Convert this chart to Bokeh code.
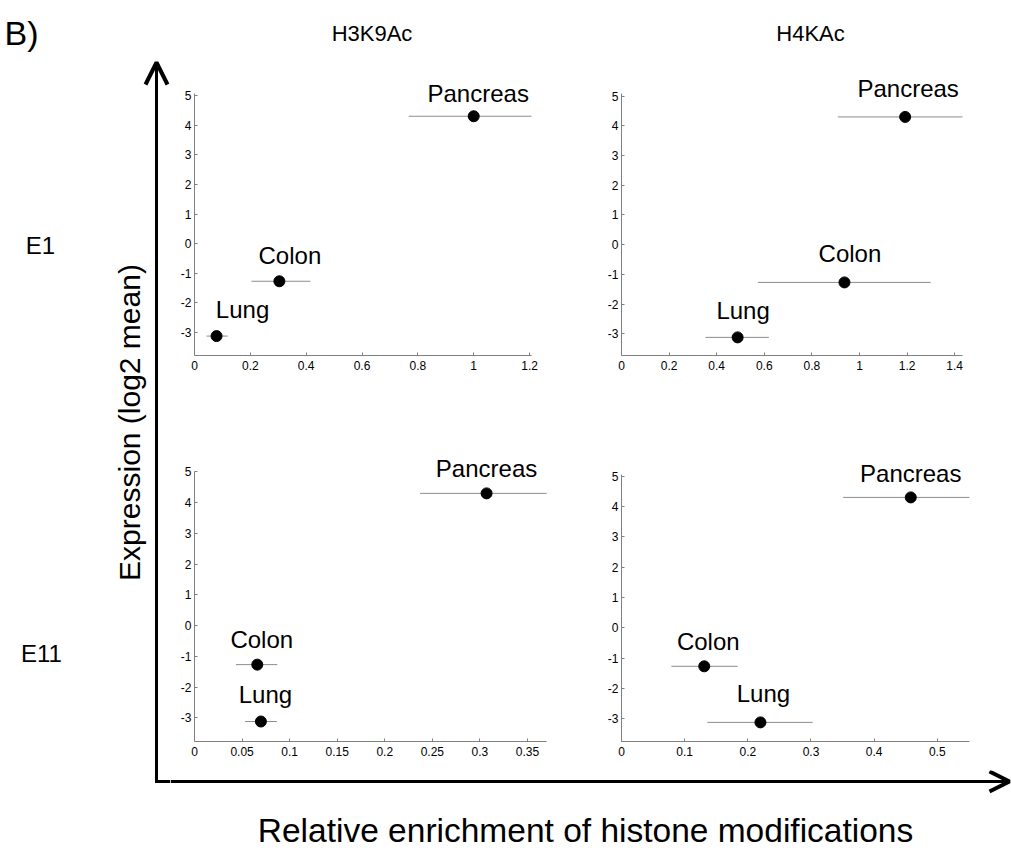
import math
from bokeh.plotting import figure
from bokeh.models import (Range1d, FixedTicker, ColumnDataSource, LabelSet, Label,
                          Arrow, OpenHead)
from bokeh.core.properties import value
from bokeh.layouts import row, column
from bokeh.embed import file_html
from bokeh.resources import INLINE

# ---------------- data ----------------
tissues = ["Lung", "Colon", "Pancreas"]
expression = [-3.12, -1.27, 4.30]          # log2 mean expression (same for all panels)

# E1 / H3K9Ac
e1_h3_mean = [0.079, 0.304, 1.000]
e1_h3_lo = [0.043, 0.204, 0.767]
e1_h3_hi = [0.119, 0.415, 1.240]
# E1 / H4KAc
e1_h4_mean = [0.488, 0.937, 1.192]
e1_h4_lo = [0.353, 0.573, 0.909]
e1_h4_hi = [0.619, 1.299, 1.460]
# E11 / H3K9Ac
e11_h3_mean = [0.0698, 0.066, 0.307]
e11_h3_lo = [0.053, 0.0435, 0.237]
e11_h3_hi = [0.0866, 0.087, 0.380]
# E11 / H4KAc
e11_h4_mean = [0.220, 0.131, 0.458]
e11_h4_lo = [0.136, 0.079, 0.351]
e11_h4_hi = [0.3026, 0.184, 0.570]

y_ticks = [-3, -2, -1, 0, 1, 2, 3, 4, 5]
y_tick_labels = ["-3", "-2", "-1", "0", "1", "2", "3", "4", "5"]
x_ticks_e1_h3 = [0, 0.2, 0.4, 0.6, 0.8, 1.0, 1.2]
x_labels_e1_h3 = ["0", "0.2", "0.4", "0.6", "0.8", "1", "1.2"]
x_ticks_e1_h4 = [0, 0.2, 0.4, 0.6, 0.8, 1.0, 1.2, 1.4]
x_labels_e1_h4 = ["0", "0.2", "0.4", "0.6", "0.8", "1", "1.2", "1.4"]
x_ticks_e11_h3 = [0, 0.05, 0.1, 0.15, 0.2, 0.25, 0.3, 0.35]
x_labels_e11_h3 = ["0", "0.05", "0.1", "0.15", "0.2", "0.25", "0.3", "0.35"]
x_ticks_e11_h4 = [0, 0.1, 0.2, 0.3, 0.4, 0.5]
x_labels_e11_h4 = ["0", "0.1", "0.2", "0.3", "0.4", "0.5"]

col_titles = ["H3K9Ac", "H4KAc"]
row_titles = ["E1", "E11"]
y_title = "Expression (log2 mean)"
x_title = "Relative enrichment of histone modifications"
panel_tag = "B)"

FONT = "Liberation Sans"
AXIS_GRAY = "#808080"
BAR_GRAY = "#8c8c8c"


def panel(width, height, borders, xr, yr, y_top, xt, xl, mean, lo, hi, dx, dy):
    l, r, t, b = borders
    p = figure(width=width, height=height, x_range=Range1d(*xr), y_range=Range1d(*yr),
               output_backend="svg", toolbar_location=None,
               min_border_left=l, min_border_right=r, min_border_top=t, min_border_bottom=b)
    p.xgrid.visible = False
    p.ygrid.visible = False
    p.outline_line_color = None
    for ax, ticks, labels, standoff in ((p.xaxis[0], xt, xl, 5), (p.yaxis[0], y_ticks, y_tick_labels, 3)):
        ax.ticker = FixedTicker(ticks=ticks)
        ax.major_label_overrides = {float(k): v for k, v in zip(ticks, labels)}
        ax.axis_line_color = AXIS_GRAY
        ax.major_tick_line_color = AXIS_GRAY
        ax.major_tick_in = 3
        ax.major_tick_out = 0
        ax.minor_tick_line_color = None
        ax.major_label_text_font = FONT
        ax.major_label_text_font_size = "12px"
        ax.major_label_text_color = "black"
        ax.major_label_standoff = standoff
    p.yaxis[0].bounds = (yr[0], y_top)
    src = ColumnDataSource(dict(x=mean, y=expression, lo=lo, hi=hi, name=tissues,
                                dx=dx, dy=dy))
    p.segment(x0="lo", x1="hi", y0="y", y1="y", source=src, line_color=BAR_GRAY, line_width=1)
    p.scatter(x="x", y="y", source=src, size=11, fill_color="black", line_color="black")
    p.add_layout(LabelSet(x="x", y="y", text="name", source=src, x_offset="dx", y_offset="dy",
                          text_align="center", text_baseline="alphabetic",
                          text_font=value(FONT), text_font_size=value("24px"),
                          text_color="black"))
    return p


# row 1 spans page y 60..420, row 2 spans 420..770; columns: 170..580, 580..1011
p1 = panel(410, 360, (24, 49, 10, 65), (0, 1.207), (-3.776, 5.844), 5.068,
           x_ticks_e1_h3, x_labels_e1_h3, e1_h3_mean, e1_h3_lo, e1_h3_hi,
           [26, 10.5, 4.5], [18, 17, 14])
p2 = panel(431, 360, (41, 49, 10, 61), (0, 1.433), (-3.73, 5.863), 5.10,
           x_ticks_e1_h4, x_labels_e1_h4, e1_h4_mean, e1_h4_lo, e1_h4_hi,
           [5.5, 5.5, 3], [18, 20, 20])
p3 = panel(410, 350, (24, 34, 10, 28), (0, 0.370), (-3.77, 6.345), 5.016,
           x_ticks_e11_h3, x_labels_e11_h3, e11_h3_mean, e11_h3_lo, e11_h3_hi,
           [4.5, 4.5, 0], [19, 17, 16])
p4 = panel(431, 350, (41, 42, 10, 29), (0, 0.551), (-3.75, 6.507), 5.056,
           x_ticks_e11_h4, x_labels_e11_h4, e11_h4_mean, e11_h4_lo, e11_h4_hi,
           [3, 4, 0], [20, 16, 15])


def strip(width, height):
    s = figure(width=width, height=height, x_range=Range1d(0, width), y_range=Range1d(height, 0),
               output_backend="svg", toolbar_location=None, min_border=0,
               x_axis_location=None, y_axis_location=None)
    s.xgrid.visible = False
    s.ygrid.visible = False
    s.outline_line_color = None
    return s


def text_label(x, y, text, size, align="center", angle=0.0):
    return Label(x=x, y=y, text=text, text_font=FONT, text_font_size=size,
                 text_align=align, text_baseline="alphabetic", text_color="black", angle=angle)


# left strip (page x 0..170)
L = strip(170, 850)
L.add_layout(text_label(4, 32, panel_tag, "34px", align="left"))
L.add_layout(text_label(40, 245, row_titles[0], "24px"))
L.add_layout(text_label(41, 653, row_titles[1], "24px"))
L.add_layout(text_label(129, 422, y_title, "30px", angle=math.pi / 2))
L.add_layout(Arrow(x_start=156, y_start=782.5, x_end=156, y_end=62, line_width=3,
                   line_color="black",
                   end=OpenHead(size=22, line_width=4, line_color="black")))
L.segment(x0=[156], x1=[170], y0=[781], y1=[781], line_width=3, line_color="black")

# top strip (page x 170..1011, y 0..60)
T = strip(841, 60)
T.add_layout(text_label(371.5 - 170, 33, col_titles[0], "22px"))
T.add_layout(text_label(810 - 170, 33, col_titles[1], "22px"))

# bottom strip (page x 170..1011, y 770..850)
B = strip(841, 80)
B.add_layout(Arrow(x_start=0, y_start=11, x_end=1009 - 170, y_end=11, line_width=3,
                   line_color="black",
                   end=OpenHead(size=20, line_width=4, line_color="black")))
B.add_layout(text_label(585 - 170, 60, x_title, "33.5px"))

layout = row(L, column(T, row(p1, p2), row(p3, p4), B))

open("out.html", "w").write(file_html(layout, INLINE))
